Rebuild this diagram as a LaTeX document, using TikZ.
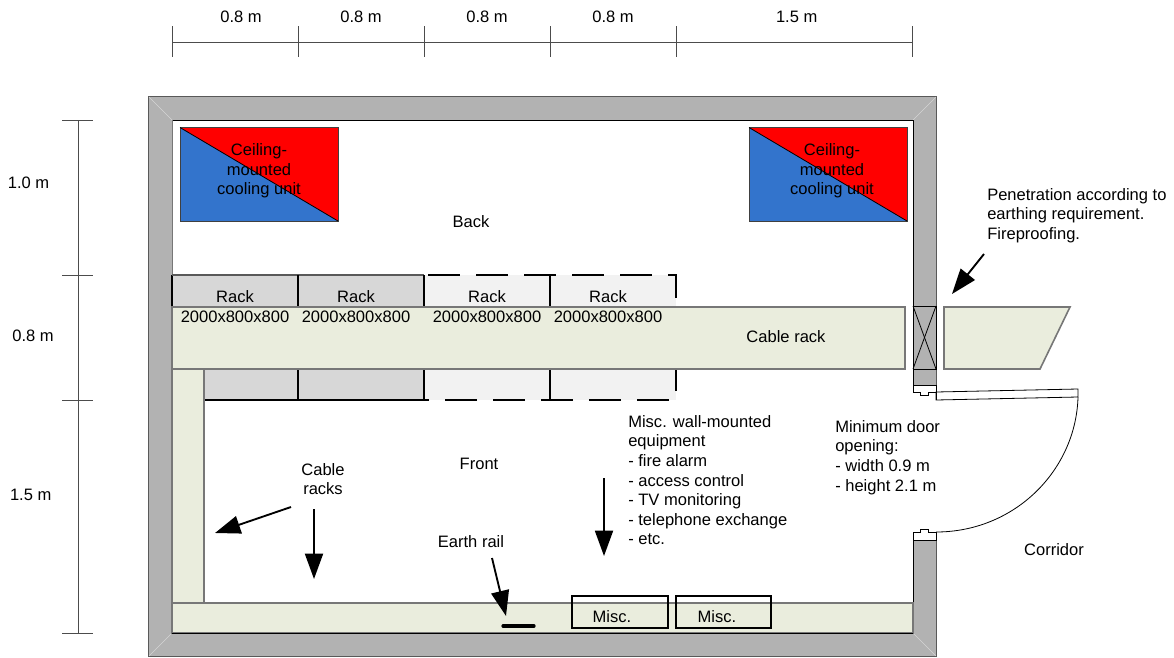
\documentclass[tikz,border=0pt]{standalone}
\usepackage{fontspec}
\setmainfont{Liberation Sans}
\usetikzlibrary{arrows.meta}
\definecolor{wallgrey}{HTML}{B2B2B2}
\definecolor{rackgreen}{HTML}{EAEDDD}
\definecolor{rackgrey}{HTML}{D7D7D7}
\definecolor{racklight}{HTML}{F2F2F2}
\definecolor{coolblue}{HTML}{3374CC}
\definecolor{edgegrey}{HTML}{777777}
\tikzset{
  wall/.style={draw=black!65, line width=0.6pt},
  cablerack/.style={fill=rackgreen, draw=edgegrey, line width=1.2pt},
  rackline/.style={draw=black, line width=1.4pt},
  newrack/.style={draw=black, line width=2.1pt, dash pattern=on 24pt off 12pt},
  label/.style={inner sep=0pt, font=\fontsize{12.4}{14.7}\selectfont, align=center},
  leftlabel/.style={label, align=left},
  bigarrow/.style={draw=black, line width=1.4pt, -{Triangle[length=19pt, width=13.5pt]}},
  dimline/.style={draw=black!70, line width=0.7pt},
  thinline/.style={draw=black, line width=0.6pt},
  cornerline/.style={draw=white!45!wallgrey, line width=0.4pt}
}
\begin{document}
\begin{tikzpicture}[x=0.75pt, y=-0.75pt]
\useasboundingbox ( 0, 0 ) rectangle ( 1174, 657 );

% Walls
\fill[wallgrey] ( 148.5, 96.5 ) rectangle ( 936, 656 );
\draw[wall] ( 148.5, 96.5 ) rectangle ( 936, 656 );
\fill[white] ( 172, 120 ) rectangle ( 913, 633 );
\draw[thinline] ( 172, 120 ) -- ( 913, 120 ) -- ( 913, 385 );
\draw[thinline, draw=edgegrey] ( 172, 120 ) -- ( 172, 633 );
\draw[thinline] ( 913, 633 ) -- ( 913, 540 );
\draw[cornerline] ( 149, 97 ) -- ( 172, 120 );
\draw[cornerline] ( 936, 97 ) -- ( 913, 120 );
\draw[cornerline] ( 149, 656 ) -- ( 172, 633 );
\draw[cornerline] ( 936, 656 ) -- ( 913, 633 );

% Door opening
\fill[white] ( 912, 385 ) rectangle ( 938, 532 );
\draw[thinline, fill=white] ( 936, 385 ) -- ( 913, 385 ) -- ( 913, 392 ) -- ( 920, 392 ) -- ( 920, 395 ) -- ( 928, 395 ) -- ( 928, 392 ) -- ( 936, 392 ) -- cycle;
\draw[thinline, fill=white] ( 936, 540 ) -- ( 913, 540 ) -- ( 913, 532 ) -- ( 920, 532 ) -- ( 920, 529 ) -- ( 928, 529 ) -- ( 928, 532 ) -- ( 936, 532 ) -- cycle;
\draw[thinline, fill=white] ( 936, 392 ) -- ( 1078, 389 ) -- ( 1078, 397 ) -- ( 936, 400 ) -- cycle;
\draw[thinline] ( 1078, 397 ) .. controls ( 1076, 470 ) and ( 1015, 532 ) .. ( 936, 532 );
\draw[thinline] ( 936, 385 ) -- ( 936, 400 );

% Wall penetration
\draw[thinline] ( 913, 306 ) rectangle ( 936, 369 );
\draw[thinline] ( 913, 306 ) -- ( 936, 369 );
\draw[thinline] ( 936, 306 ) -- ( 913, 369 );

% Racks
\fill[rackgrey] ( 172, 275 ) rectangle ( 424, 307 );
\fill[rackgrey] ( 204, 369 ) rectangle ( 424, 400 );
\fill[racklight] ( 424, 275 ) rectangle ( 676, 307 );
\fill[racklight] ( 424, 369 ) rectangle ( 676, 400 );
\draw[rackline] ( 172, 307 ) -- ( 172, 275 );
\draw[rackline, draw=black!65] ( 172, 275 ) -- ( 424, 275 );
\draw[rackline] ( 298, 275 ) -- ( 298, 307 );
\draw[rackline] ( 424, 275 ) -- ( 424, 307 );
\draw[rackline] ( 550, 275 ) -- ( 550, 307 );
\draw[rackline] ( 204, 400 ) -- ( 424, 400 );
\draw[rackline] ( 298, 369 ) -- ( 298, 400 );
\draw[rackline] ( 424, 369 ) -- ( 424, 400 );
\draw[rackline] ( 550, 369 ) -- ( 550, 400 );
\draw[newrack] ( 428, 275 ) -- ( 676, 275 ) -- ( 676, 298 );
\draw[newrack, dash phase=7.5pt] ( 676, 369 ) -- ( 676, 400 ) -- ( 424, 400 );

% Cable racks
\draw[cablerack] ( 172, 369 ) rectangle ( 204, 603 );
\draw[cablerack] ( 172, 603 ) rectangle ( 913, 633 );
\draw[cablerack] ( 172, 307 ) rectangle ( 905, 369 );
\draw[cablerack] ( 944, 307 ) -- ( 1070, 307 ) -- ( 1040, 369 ) -- ( 944, 369 ) -- cycle;
\draw[thinline] ( 172, 633 ) -- ( 913, 633 );

% Cooling units
\foreach \cx in { 180, 749 } {
  \fill[coolblue] ( \cx, 127.5 ) rectangle ( \cx + 158, 221 );
  \fill[red] ( \cx, 127.5 ) -- ( \cx + 158, 127.5 ) -- ( \cx + 158, 221 ) -- cycle;
  \draw[thinline, draw=black!75] ( \cx, 127.5 ) rectangle ( \cx + 158, 221 );
  \draw[thinline] ( \cx, 127.5 ) -- ( \cx + 158, 221 );
}
\node[label] (coolleft) at ( 259, 171 ) {Ceiling-\\mounted\\cooling unit};
\node[label] (coolright) at ( 832, 171 ) {Ceiling-\\mounted\\cooling unit};

% Misc. boxes and earth rail
\draw[rackline, line width=1.1pt] ( 572, 596 ) rectangle ( 668, 628 );
\draw[rackline, line width=1.1pt] ( 676, 596 ) rectangle ( 771, 628 );
\node[label] (miscone) at ( 612, 617 ) {Misc.};
\node[label] (misctwo) at ( 717, 617 ) {Misc.};
\coordinate (railleft) at ( 503, 626 );
\coordinate (railright) at ( 534, 626 );
\draw[black, line width=2.4pt, line cap=round] (railleft) -- (railright);

% Rack labels
\foreach \rx/\nm in { 235/a, 356/b, 487/c, 608/d } {
  \node[label] (rack\nm) at ( \rx, 297 ) {Rack};
  \node[label] (size\nm) at ( \rx, 317 ) {2000x800x800};
}
\node[label] (cablerack) at ( 786, 337 ) {Cable rack};

% Room labels
\node[label] (back) at ( 471, 222 ) {Back};
\node[label] (front) at ( 479, 464 ) {Front};
\node[label] (corridor) at ( 1054, 550 ) {Corridor};
\node[label] (cables) at ( 323, 479 ) {Cable\\racks};
\node[label] (earth) at ( 471, 542 ) {Earth rail};
\node[leftlabel, anchor=north west] (miscwall) at ( 628, 415 ) {Misc. wall-mounted\\equipment\\- fire alarm\\- access control\\- TV monitoring\\- telephone exchange\\- etc.};
\node[leftlabel, anchor=north west] (dooropen) at ( 835, 420 ) {Minimum door\\opening:\\- width 0.9 m\\- height 2.1 m};
\node[leftlabel, anchor=north west] (penetr) at ( 987, 188 ) {Penetration according to\\earthing requirement.\\Fireproofing.};

% Arrows
\coordinate (penetrtip) at ( 952, 294 );
\coordinate (cabletipa) at ( 215, 533 );
\coordinate (cabletipb) at ( 314, 579 );
\coordinate (earthtip) at ( 506, 616 );
\coordinate (misctip) at ( 604, 556 );
\coordinate (penetrtail) at ( 984, 254 );
\coordinate (cabletaila) at ( 291, 507 );
\coordinate (cabletailb) at ( 314, 509 );
\coordinate (earthtail) at ( 492, 558 );
\coordinate (misctail) at ( 604, 478 );
\draw[bigarrow] (penetrtail) -- (penetrtip);
\draw[bigarrow] (cabletaila) -- (cabletipa);
\draw[bigarrow] (cabletailb) -- (cabletipb);
\draw[bigarrow] (earthtail) -- (earthtip);
\draw[bigarrow] (misctail) -- (misctip);

% Dimensions, top
\draw[dimline] ( 172, 42 ) -- ( 912, 42 );
\foreach \dx in { 172, 298, 424, 550, 676, 912 }
  \draw[dimline] ( \dx, 26 ) -- ( \dx, 57 );
\foreach \dx/\nm/\dtxt in { 241/ta/0.8 m, 361/tb/0.8 m, 487/tc/0.8 m, 613/td/0.8 m, 799/te/1.5 m }
  \node[label] (dim\nm) at ( \dx, 17 ) {\dtxt};

% Dimensions, left
\draw[dimline] ( 78, 120 ) -- ( 78, 633 );
\foreach \dy in { 120, 275, 400, 633 }
  \draw[dimline] ( 62, \dy ) -- ( 93, \dy );
\foreach \dx/\dy/\nm/\dtxt in { 28.5/183/la/1.0 m, 33/336/lb/0.8 m, 33/495/lc/1.5 m }
  \node[label] (dim\nm) at ( \dx, \dy ) {\dtxt};
\end{tikzpicture}
\end{document}
